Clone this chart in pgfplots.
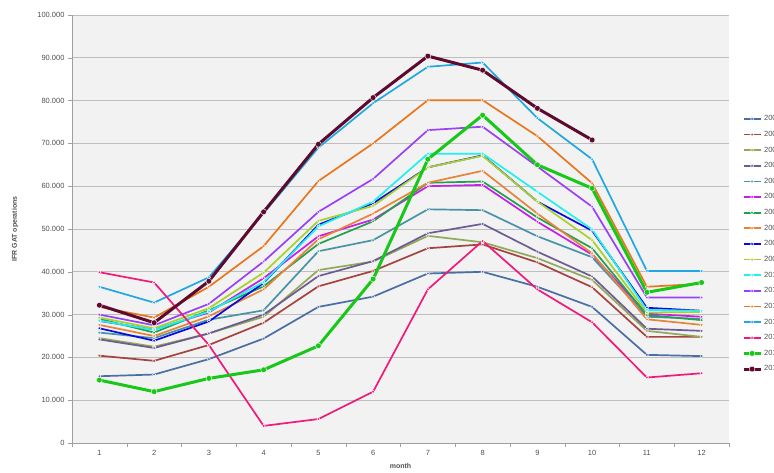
\documentclass[border=0pt]{standalone}
\usepackage{fontspec}
\setmainfont{Liberation Sans}
\usepackage{pgfplots}
\usepackage{pgfplotstable}
\pgfplotsset{compat=1.18}

\definecolor{c1}{RGB}{74,111,165}
\definecolor{c2}{RGB}{165,68,63}
\definecolor{c3}{RGB}{147,169,90}
\definecolor{c4}{RGB}{109,92,145}
\definecolor{c5}{RGB}{74,147,166}
\definecolor{c6}{RGB}{200,30,230}
\definecolor{c7}{RGB}{34,160,78}
\definecolor{c8}{RGB}{232,131,58}
\definecolor{c9}{RGB}{10,10,224}
\definecolor{c10}{RGB}{166,210,42}
\definecolor{c11}{RGB}{34,240,240}
\definecolor{c12}{RGB}{154,64,245}
\definecolor{c13}{RGB}{232,119,30}
\definecolor{c14}{RGB}{34,168,224}
\definecolor{c15}{RGB}{240,26,122}
\definecolor{c16}{RGB}{24,200,24}
\definecolor{c17}{RGB}{94,10,46}
\definecolor{plotbg}{RGB}{242,242,242}
\definecolor{gridc}{RGB}{190,190,190}
\definecolor{axisc}{RGB}{160,160,160}
\definecolor{labc}{RGB}{80,80,80}

% IFR GAT operations per month, one column per year
\pgfplotstableread{
month s1    s2    s3    s4    s5    s6    s7    s8    s9    s10   s11   s12   s13   s14   s15   s16   s17
1     15600 20400 24500 24200 25800 28500 29000 27600 26800 29300 28600 30000 31800 36500 39900 14700 32200
2     16000 19200 22500 22200 24500 26500 25800 25000 23900 26800 26400 27500 29300 32800 37500 12000 28100
3     19600 22900 25600 25600 28800 30500 31000 29600 28400 31500 30700 32500 36500 38700 22900 15100 37800
4     24400 28100 29500 30000 31000 38500 36600 35900 37400 39800 37600 42400 46000 53700 4000  17100 54000
5     31800 36600 40400 39000 44800 48300 46500 47600 51000 51900 50600 54000 61200 69000 5600  22700 69800
6     34200 40200 42400 42500 47400 52200 51800 53600 56000 55400 56400 61700 70000 79400 12000 38300 80700
7     39600 45500 48400 49000 54600 60000 60800 60800 64400 64400 67600 73100 80100 87900 35900 66300 90400
8     40000 46400 46900 51200 54400 60300 61100 63600 67200 67100 67600 73900 80100 88900 47200 76600 87100
9     36500 42200 43200 44700 48300 51700 52700 53600 56400 56400 58700 64600 71700 75900 35900 65000 78200
10    31800 36400 38100 38900 43400 44000 45500 44300 49600 47400 49900 55200 60700 66300 28200 59500 70800
11    20600 24800 26200 26700 29500 30200 29900 28900 31600 30500 31100 34000 36500 40200 15300 35200 nan
12    20300 24800 24800 26200 29000 29500 28700 27600 30900 30600 30900 34000 37200 40200 16300 37500 nan
}\gat

\pgfplotsset{
  ser/.style={color=#1, mark=*, line width=1.7pt, mark size=1.6pt,
    mark options={fill=#1, draw=white, line width=0.4pt, solid}},
  serthick/.style={color=#1, mark=*, line width=3pt, mark size=2.9pt,
    mark options={fill=#1, draw=white, line width=0.4pt, solid}},
}

\begin{document}
\begin{tikzpicture}
\begin{axis}[
    scale only axis,
    width=657pt, height=428pt,
    xmin=0.5, xmax=12.5,
    ymin=0, ymax=100000,
    xtick={1,...,12},
    minor xtick={0.5,1.5,...,12.5},
    ytick={0,10000,...,100000},
    scaled y ticks=false,
    /pgf/number format/assume math mode=true,
    y tick label style={/pgf/number format/.cd, fixed, precision=0, 1000 sep={.}},
    tick label style={font=\fontsize{7.5}{9}\selectfont, text=labc},
    tick align=outside,
    major x tick style={draw=none},
    minor x tick style={axisc},
    minor tick length=4pt,
    major tick length=4pt,
    y tick style={axisc},
    axis lines*=left,
    axis line style={axisc, line width=0.8pt},
    axis background/.style={fill=plotbg},
    ymajorgrids,
    grid style={gridc, line width=0.7pt},
    xlabel={month},
    ylabel={IFR GAT operations},
    xlabel style={font=\fontsize{7}{8}\selectfont\bfseries, text=labc,
      at={(axis description cs:0.5,-0.054)}, anchor=center},
    ylabel style={font=\fontsize{7}{8}\selectfont\bfseries, text=labc,
      at={(axis description cs:-0.0868,0.5)}, anchor=center},
    legend style={at={(axis description cs:1.015,0.775)}, anchor=north west,
      draw=none, fill=none, font=\fontsize{7.5}{9}\selectfont, text=labc,
      row sep=4.9pt},
    legend cell align=left,
]
\addplot[ser=c1]  table[x=month, y=s1]  {\gat};
\addplot[ser=c2]  table[x=month, y=s2]  {\gat};
\addplot[ser=c3]  table[x=month, y=s3]  {\gat};
\addplot[ser=c4]  table[x=month, y=s4]  {\gat};
\addplot[ser=c5]  table[x=month, y=s5]  {\gat};
\addplot[ser=c6]  table[x=month, y=s6]  {\gat};
\addplot[ser=c7]  table[x=month, y=s7]  {\gat};
\addplot[ser=c8]  table[x=month, y=s8]  {\gat};
\addplot[ser=c9]  table[x=month, y=s9]  {\gat};
\addplot[ser=c10] table[x=month, y=s10] {\gat};
\addplot[ser=c11] table[x=month, y=s11] {\gat};
\addplot[ser=c12] table[x=month, y=s12] {\gat};
\addplot[ser=c13] table[x=month, y=s13] {\gat};
\addplot[ser=c14] table[x=month, y=s14] {\gat};
\addplot[ser=c15] table[x=month, y=s15] {\gat};
\addplot[serthick=c16] table[x=month, y=s16] {\gat};
\addplot[serthick=c17] table[x=month, y=s17] {\gat};
\legend{2000,2001,2002,2003,2004,2005,2006,2007,2008,2009,2010,2011,2012,2013,2014,2015,2016}
\end{axis}
\pgfresetboundingbox
\useasboundingbox (-72pt,-29pt) rectangle (702pt,443pt);
\end{tikzpicture}
\end{document}
